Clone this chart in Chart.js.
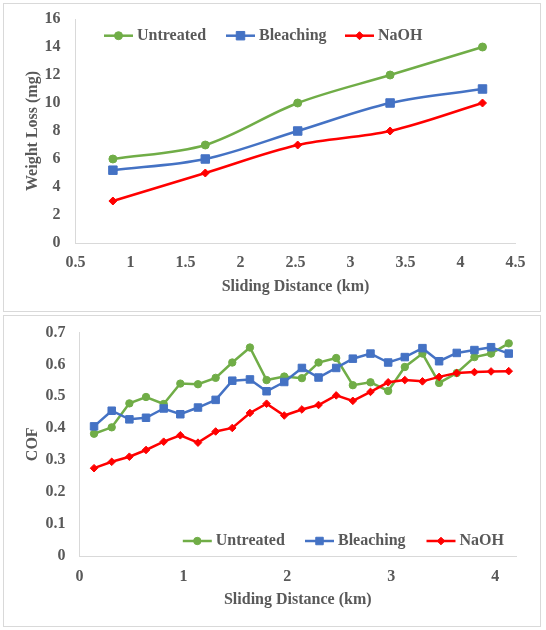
<!DOCTYPE html>
<html><head><meta charset="utf-8">
<script src="https://cdn.jsdelivr.net/npm/chart.js@4.4.1/dist/chart.umd.min.js"></script>
<style>
html,body{margin:0;padding:0;background:#fff;}
.box{position:absolute;left:3px;width:538px;border:1px solid #d9d9d9;box-sizing:border-box;background:#fff;}
#b1{top:3px;height:309px;}
#b2{top:315px;height:312px;}
canvas{display:block;}
</style></head><body>
<div class="box" id="b1"><canvas id="c1" width="536" height="307" style="width:536px;height:307px"></canvas></div>
<div class="box" id="b2"><canvas id="c2" width="536" height="310" style="width:536px;height:310px"></canvas></div>
<script>
// ---- data: weight loss chart ----
const seriesNames = ['Untreated', 'Bleaching', 'NaOH'];
const wearDistance = [0.84, 1.68, 2.52, 3.36, 4.2];
const wearUntreated = [6, 7, 10, 12, 14];
const wearBleaching = [5.2, 6, 8, 10, 11];
const wearNaOH = [3, 5, 7, 8, 10];

// ---- data: COF chart ----
const cofDistance = [0.14, 0.31, 0.48, 0.64, 0.81, 0.97, 1.14, 1.31, 1.47, 1.64, 1.80, 1.97, 2.14,
                     2.30, 2.47, 2.63, 2.80, 2.97, 3.13, 3.30, 3.46, 3.63, 3.80, 3.96, 4.13];
const cofUntreated = [0.383, 0.403, 0.478, 0.498, 0.476, 0.540, 0.538, 0.558, 0.606, 0.653, 0.551, 0.562, 0.557,
                      0.606, 0.620, 0.535, 0.544, 0.517, 0.592, 0.634, 0.542, 0.573, 0.623, 0.634, 0.666];
const cofBleaching = [0.406, 0.455, 0.428, 0.433, 0.462, 0.444, 0.465, 0.489, 0.549, 0.553, 0.516, 0.545, 0.589,
                      0.559, 0.589, 0.618, 0.634, 0.606, 0.623, 0.651, 0.610, 0.636, 0.645, 0.654, 0.634];
const cofNaOH = [0.275, 0.295, 0.311, 0.332, 0.358, 0.378, 0.355, 0.390, 0.401, 0.448, 0.477, 0.440, 0.459,
                 0.473, 0.503, 0.486, 0.514, 0.544, 0.551, 0.547, 0.561, 0.573, 0.576, 0.578, 0.579];
const cofXTicks = [0, 1, 2, 3, 4];

const COLORS = ['#70AD47', '#4472C4', '#FF0000'];
const STYLES = ['circle', 'rect', 'rectRot'];
const TXT = '#595959';
const AXIS = '#d9d9d9';
const FONT = {family: '"Liberation Serif", "Times New Roman", serif', size: 16, weight: 'bold'};
const fmt = v => String(+Number(v).toFixed(2));

function drawMarker(ctx, style, r, x, y) {
  ctx.beginPath();
  if (style === 'circle') {
    ctx.arc(x, y, r, 0, Math.PI * 2);
  } else if (style === 'rect') {
    const s = r * Math.SQRT1_2;
    ctx.rect(x - s, y - s, 2 * s, 2 * s);
  } else {
    ctx.moveTo(x, y - r); ctx.lineTo(x + r, y); ctx.lineTo(x, y + r); ctx.lineTo(x - r, y); ctx.closePath();
  }
  ctx.fill(); ctx.stroke();
}

const insideLegend = {
  id: 'insideLegend',
  afterDraw(chart, args, opts) {
    const ctx = chart.ctx;
    ctx.save();
    chart.data.datasets.forEach((ds, i) => {
      const x0 = opts.x[i], y = opts.y, L = opts.lineLen;
      ctx.strokeStyle = ds.borderColor; ctx.lineWidth = ds.borderWidth;
      ctx.beginPath(); ctx.moveTo(x0, y); ctx.lineTo(x0 + L, y); ctx.stroke();
      ctx.fillStyle = ds.pointBackgroundColor; ctx.strokeStyle = ds.pointBorderColor; ctx.lineWidth = ds.pointBorderWidth;
      drawMarker(ctx, ds.pointStyle, ds.pointRadius, x0 + L / 2, y);
      ctx.fillStyle = TXT;
      ctx.font = 'bold 16px "Liberation Serif", "Times New Roman", serif';
      ctx.textBaseline = 'middle'; ctx.textAlign = 'left';
      ctx.fillText(ds.label, x0 + L + opts.gap, y);
    });
    ctx.restore();
  }
};

function mkSet(i, xs, ys, radii, tension) {
  return {
    label: seriesNames[i],
    data: xs.map((x, k) => ({x: x, y: ys[k]})),
    borderColor: COLORS[i], backgroundColor: COLORS[i],
    pointBackgroundColor: COLORS[i], pointBorderColor: COLORS[i], pointBorderWidth: 1,
    pointStyle: STYLES[i], pointRadius: radii[i], borderWidth: 2.5,
    tension: tension, fill: false, clip: false, order: 2 - i
  };
}

function axisCommon(extra) {
  return Object.assign({
    type: 'linear',
    grid: {display: false, drawTicks: false},
    border: {display: true, color: AXIS, width: 1}
  }, extra);
}
function fixX(h) { return s => { s.height = h; s.paddingLeft = 0; s.paddingRight = 0; }; }
function fixY(w) { return s => { s.width = w; s.paddingTop = 0; s.paddingBottom = 0; }; }

// ---- Chart 1: weight loss ----
new Chart(document.getElementById('c1'), {
  type: 'line',
  data: {datasets: [
    mkSet(0, wearDistance, wearUntreated, [4, 6, 4], 0.33),
    mkSet(1, wearDistance, wearBleaching, [4, 6, 4], 0.33),
    mkSet(2, wearDistance, wearNaOH, [4, 6, 4], 0.33)
  ]},
  options: {
    responsive: false, animation: false,
    layout: {padding: {left: 0, top: 15, right: 24.5, bottom: 0}},
    plugins: {
      legend: {display: false}, tooltip: {enabled: false},
      insideLegend: {x: [100, 222, 341], y: 31.7, lineLen: 29, gap: 4}
    },
    scales: {
      x: axisCommon({
        min: 0.5, max: 4.5,
        ticks: {stepSize: 0.5, padding: 10, color: TXT, font: FONT, callback: fmt, maxRotation: 0},
        title: {display: true, text: 'Sliding Distance (km)', color: TXT, font: FONT, padding: {top: 0, bottom: 14.7}},
        afterFit: fixX(68)
      }),
      y: axisCommon({
        min: 0, max: 16,
        ticks: {stepSize: 2, padding: 15, color: TXT, font: FONT, callback: fmt},
        title: {display: true, text: 'Weight Loss (mg)', color: TXT, font: FONT, padding: {top: 19.5, bottom: 0}},
        afterFit: fixY(71.5)
      })
    }
  },
  plugins: [insideLegend]
});

// ---- Chart 2: COF ----
new Chart(document.getElementById('c2'), {
  type: 'line',
  data: {datasets: [
    mkSet(0, cofDistance, cofUntreated, [3.7, 5.3, 3.8], 0),
    mkSet(1, cofDistance, cofBleaching, [3.7, 5.3, 3.8], 0),
    mkSet(2, cofDistance, cofNaOH, [3.7, 5.3, 3.8], 0)
  ]},
  options: {
    responsive: false, animation: false,
    layout: {padding: {left: 0, top: 16.5, right: 24, bottom: 0}},
    plugins: {
      legend: {display: false}, tooltip: {enabled: false},
      insideLegend: {x: [178.8, 301, 422.5], y: 225, lineLen: 29, gap: 4}
    },
    scales: {
      x: axisCommon({
        min: 0, max: 4.2,
        ticks: {stepSize: 1, padding: 11, color: TXT, font: FONT, callback: fmt, maxRotation: 0},
        afterBuildTicks: s => { s.ticks = cofXTicks.map(v => ({value: v})); },
        title: {display: true, text: 'Sliding Distance (km)', color: TXT, font: FONT, padding: {top: 0, bottom: 16.4}},
        afterFit: fixX(70)
      }),
      y: axisCommon({
        min: 0, max: 0.7,
        ticks: {stepSize: 0.1, padding: 14, color: TXT, font: FONT, callback: fmt},
        title: {display: true, text: 'COF', color: TXT, font: FONT, padding: {top: 19.5, bottom: 0}},
        afterFit: fixY(75.5)
      })
    }
  },
  plugins: [insideLegend]
});
</script>
</body></html>
